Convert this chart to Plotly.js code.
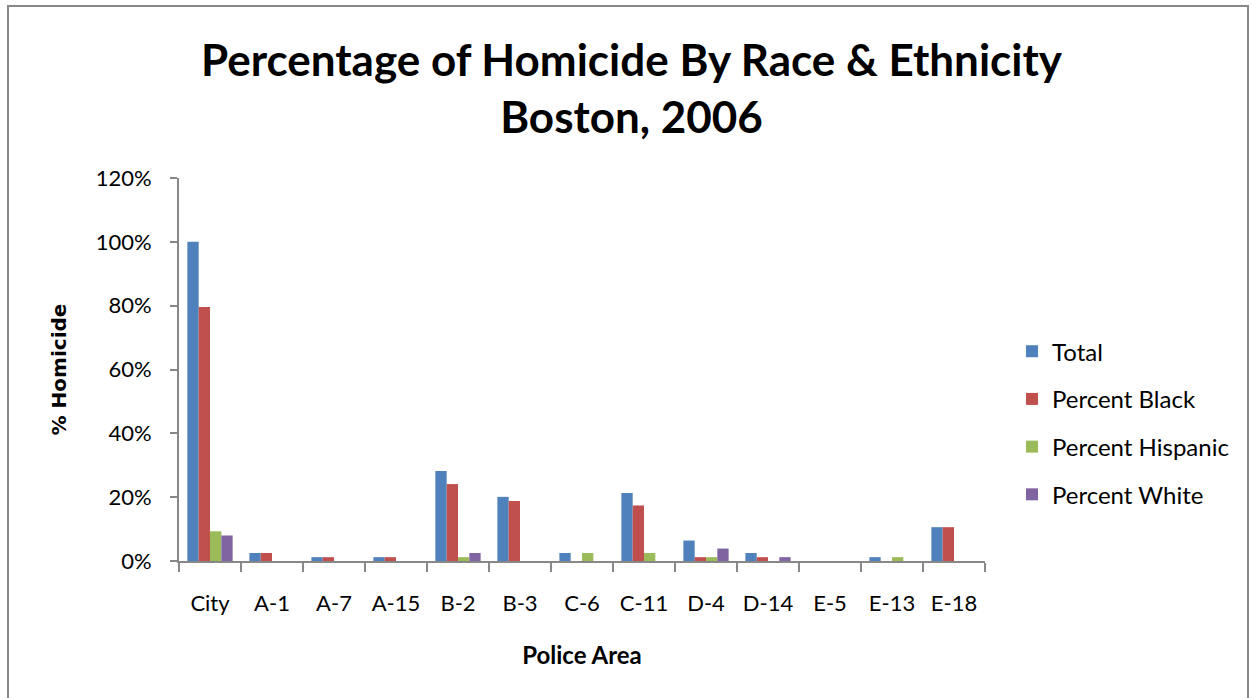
<!DOCTYPE html>
<html>
<head>
<meta charset="utf-8">
<script src="https://cdn.plot.ly/plotly-3.0.1.min.js"></script>
<style>html,body{margin:0;padding:0;background:#fff;}#chart{width:1253px;height:698px;}</style>
</head>
<body>
<div id="chart"></div>
<script>
const categories = ["City","A-1","A-7","A-15","B-2","B-3","C-6","C-11","D-4","D-14","E-5","E-13","E-18"];
const total    = [1.000,0.025,0.012,0.012,0.282,0.201,0.025,0.213,0.064,0.025,0,0.012,0.106];
const black    = [0.796,0.025,0.012,0.012,0.241,0.188,0,0.174,0.012,0.012,0,0,0.106];
const hispanic = [0.093,0,0,0,0.012,0,0.025,0.025,0.012,0,0,0.012,0];
const white    = [0.080,0,0,0,0.025,0,0,0,0.039,0.012,0,0,0];
const seriesNames = ["Total","Percent Black","Percent Hispanic","Percent White"];
const seriesColors = ["#4F81BD","#C0504D","#9BBB59","#8064A2"];
const seriesData = [total, black, hispanic, white];

const font = "Lato, 'Open Sans', sans-serif";
const traces = seriesData.map((vals, i) => ({
  type: "bar",
  name: seriesNames[i],
  x: categories,
  y: vals,
  legendgroup: "g" + i,
  marker: {color: seriesColors[i], line: {width: 0}},
  hoverinfo: "x+y+name"
}));

const layout = {
  width: 1253, height: 698,
  paper_bgcolor: "#fff", plot_bgcolor: "#fff",
  margin: {l: 179, r: 268, t: 178, b: 137},
  barmode: "group",
  bargap: 0.27,
  bargroupgap: 0,
  font: {family: font, size: 22, color: "#000"},
  title: {
    text: "<b>Percentage of Homicide By Race & Ethnicity<br>Boston, 2006</b>",
    font: {family: font, size: 44, color: "#000"},
    x: 0.504, xanchor: "center",
    yref: "container", y: 1 - 76/698, yanchor: "middle"
  },
  xaxis: {
    type: "category",
    tickson: "boundaries",
    ticks: "outside", ticklen: 9, tickcolor: "#888", tickwidth: 2,
    showline: true, linecolor: "#888", linewidth: 2,
    showgrid: false, zeroline: false,
    ticklabelstandoff: 22,
    tickfont: {family: font, size: 22, color: "#000"},
    title: {text: "<b>Police Area</b>", font: {family: font, size: 24, color: "#000"}, standoff: 32}
  },
  yaxis: {
    range: [0, 1.2], dtick: 0.2, tickformat: ".0%",
    ticks: "outside", ticklen: 7, tickcolor: "#888", tickwidth: 2,
    showline: true, linecolor: "#888", linewidth: 2,
    showgrid: false, zeroline: false,
    ticklabelstandoff: 14,
    tickfont: {family: font, size: 22, color: "#000"},
    title: {text: "<b>% Homicide</b>", font: {family: "'DejaVu Sans', sans-serif", size: 20, color: "#000"}, standoff: 24}
  },
  legend: {
    x: (1012-179)/806, xanchor: "left", y: 0.36, yanchor: "middle",
    font: {family: font, size: 24, color: "#000"},
    tracegroupgap: 13.5, traceorder: "grouped",
    itemwidth: 30, bgcolor: "rgba(0,0,0,0)"
  },
  shapes: [{
    type: "rect", xref: "paper", yref: "paper",
    x0: (8-179)/806, x1: (1248-179)/806, y0: -0.6, y1: (561-6)/383,
    line: {color: "#888", width: 2}, fillcolor: "rgba(0,0,0,0)"
  }]
};

Plotly.newPlot("chart", traces, layout, {displayModeBar: false});
</script>
</body>
</html>
